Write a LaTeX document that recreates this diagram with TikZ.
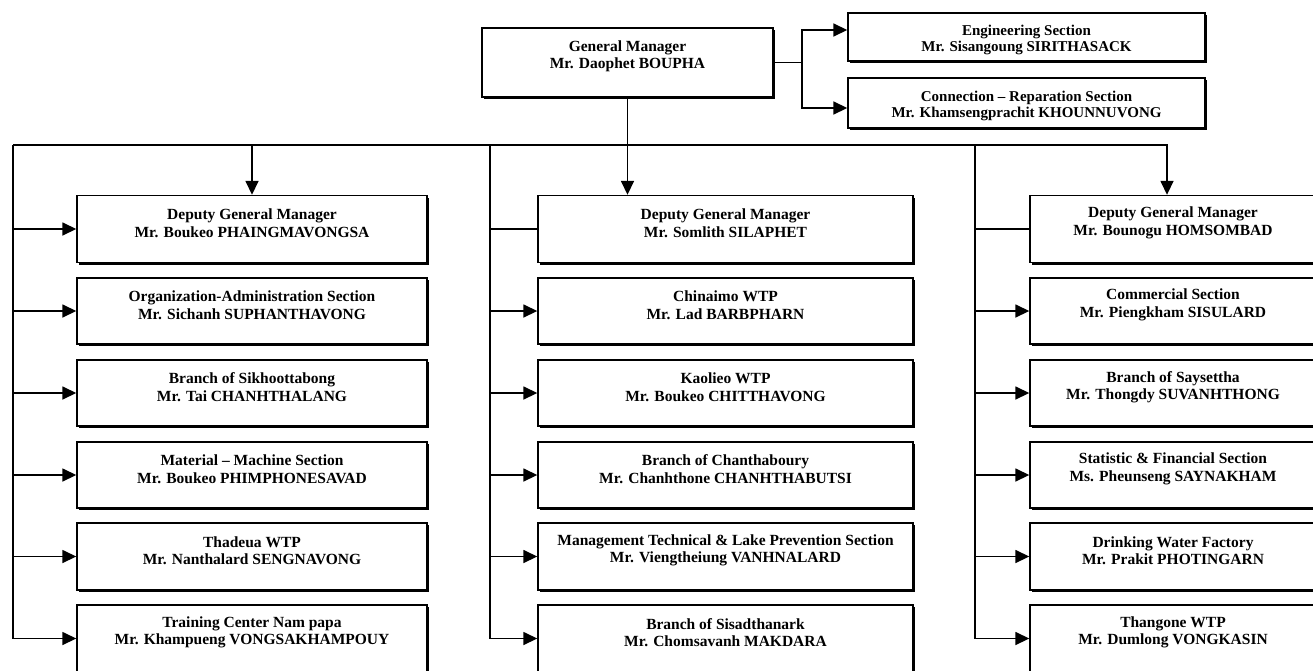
\documentclass[tikz,border=0pt]{standalone}
\usepackage{fontspec}
\setmainfont{Liberation Serif}
\usetikzlibrary{arrows.meta,shadows}
\tikzset{
  box/.style={draw, line width=1.4pt, fill=white, inner sep=0pt,
    drop shadow={shadow xshift=2.2pt, shadow yshift=-2.2pt, opacity=1, fill=black}},
  txt/.style={align=center, inner sep=0pt, font=\bfseries\fontsize{15.5}{17.5}\selectfont},
  stxt/.style={align=center, inner sep=0pt, font=\bfseries\fontsize{15}{16}\selectfont},
  conn/.style={line width=1.6pt},
  arr/.style={line width=1.6pt, -{Triangle[length=14pt,width=13pt]}},
}
\newcommand{\orgbox}[6]{%
  \node[box, minimum width=#4pt, minimum height=#5pt] (#1) at (#2,#3) {};
  \node[txt] (#1t) at ([yshift=6pt]#1.center) {#6};}
\begin{document}
\begin{tikzpicture}[x=1pt,y=-1pt]
\useasboundingbox (0,0) rectangle (1313,670);
\clip (0,0) rectangle (1313,670);
\fill[white] (0,0) rectangle (1313,670);

% top boxes
\node[box, minimum width=291pt, minimum height=69pt] (gm) at (627.5,62.5) {};
\node[txt] (gmt) at ([yshift=6pt]gm.center) {General Manager\\Mr. Daophet BOUPHA};
\node[box, minimum width=357pt, minimum height=48pt] (eng) at (1026.5,37) {};
\node[stxt] (engt) at ([yshift=-3pt]eng.center) {Engineering Section\\Mr. Sisangoung SIRITHASACK};
\node[box, minimum width=357pt, minimum height=50pt] (cnx) at (1026.5,103) {};
\node[stxt] (cnxt) at ([yshift=-3pt]cnx.center) {Connection -- Reparation Section\\Mr. Khamsengprachit KHOUNNUVONG};

% left column
\orgbox{l1}{252}{229}{350}{67}{Deputy General Manager\\Mr. Boukeo PHAINGMAVONGSA}
\orgbox{l2}{252}{311}{350}{66}{Organization-Administration Section\\Mr. Sichanh SUPHANTHAVONG}
\orgbox{l3}{252}{393}{350}{66}{Branch of Sikhoottabong\\Mr. Tai CHANHTHALANG}
\orgbox{l4}{252}{475}{350}{66}{Material -- Machine Section\\Mr. Boukeo PHIMPHONESAVAD}
\orgbox{l5}{252}{556.5}{350}{67}{Thadeua WTP\\Mr. Nanthalard SENGNAVONG}
\orgbox{l6}{252}{638.5}{350}{67}{Training Center Nam papa\\Mr. Khampueng VONGSAKHAMPOUY}

% middle column
\orgbox{m1}{725.5}{229}{375}{67}{Deputy General Manager\\Mr. Somlith SILAPHET}
\orgbox{m2}{725.5}{311}{375}{66}{Chinaimo WTP\\Mr. Lad BARBPHARN}
\orgbox{m3}{725.5}{393}{375}{66}{Kaolieo WTP\\Mr. Boukeo CHITTHAVONG}
\orgbox{m4}{725.5}{475}{375}{66}{Branch of Chanthaboury\\Mr. Chanhthone CHANHTHABUTSI}
\orgbox{m5}{725.5}{556.5}{375}{67}{Management Technical \& Lake Prevention Section\\Mr. Viengtheiung VANHNALARD}
\orgbox{m6}{725.5}{638.5}{375}{67}{Branch of Sisadthanark\\Mr. Chomsavanh MAKDARA}

% right column
\orgbox{r1}{1173}{229}{286}{67}{Deputy General Manager\\Mr. Bounogu HOMSOMBAD}
\orgbox{r2}{1173}{311}{286}{66}{Commercial Section\\Mr. Piengkham SISULARD}
\orgbox{r3}{1173}{393}{286}{66}{Branch of Saysettha\\Mr. Thongdy SUVANHTHONG}
\orgbox{r4}{1173}{475}{286}{66}{Statistic \& Financial Section\\Ms. Pheunseng SAYNAKHAM}
\orgbox{r5}{1173}{556.5}{286}{67}{Drinking Water Factory\\Mr. Prakit PHOTINGARN}
\orgbox{r6}{1173}{638.5}{286}{67}{Thangone WTP\\Mr. Dumlong VONGKASIN}

% top connectors
\coordinate (j) at (802,62.5);
\draw[conn] (gm.east) -- (j);
\draw[arr] (j) |- ([yshift=7pt]eng.west);
\draw[arr] (j) |- ([yshift=-5pt]cnx.west);
\draw[arr] (gm.south) -- (gm.south |- m1.north);

% main bus
\coordinate (bL) at (13,145);
\coordinate (bM) at (490,145);
\coordinate (bR) at (975,145);
\coordinate (bE) at (1167,145);
\draw[arr] (bL) -- (bE) -- (bE |- r1.north);
\draw[arr] (l1.north |- bL) -- (l1.north);

% left bus
\draw[conn] (bL) -- (bL |- l6.west);
\foreach \n in {l1,l2,l3,l4,l5,l6}{\draw[arr] (bL |- \n.west) -- (\n.west);}
% middle bus
\draw[conn] (bM) -- (bM |- m6.west);
\draw[conn] (bM |- m1.west) -- (m1.west);
\foreach \n in {m2,m3,m4,m5,m6}{\draw[arr] (bM |- \n.west) -- (\n.west);}
% right bus
\draw[conn] (bR) -- (bR |- r6.west);
\draw[conn] (bR |- r1.west) -- (r1.west);
\foreach \n in {r2,r3,r4,r5,r6}{\draw[arr] (bR |- \n.west) -- (\n.west);}
\end{tikzpicture}
\end{document}
